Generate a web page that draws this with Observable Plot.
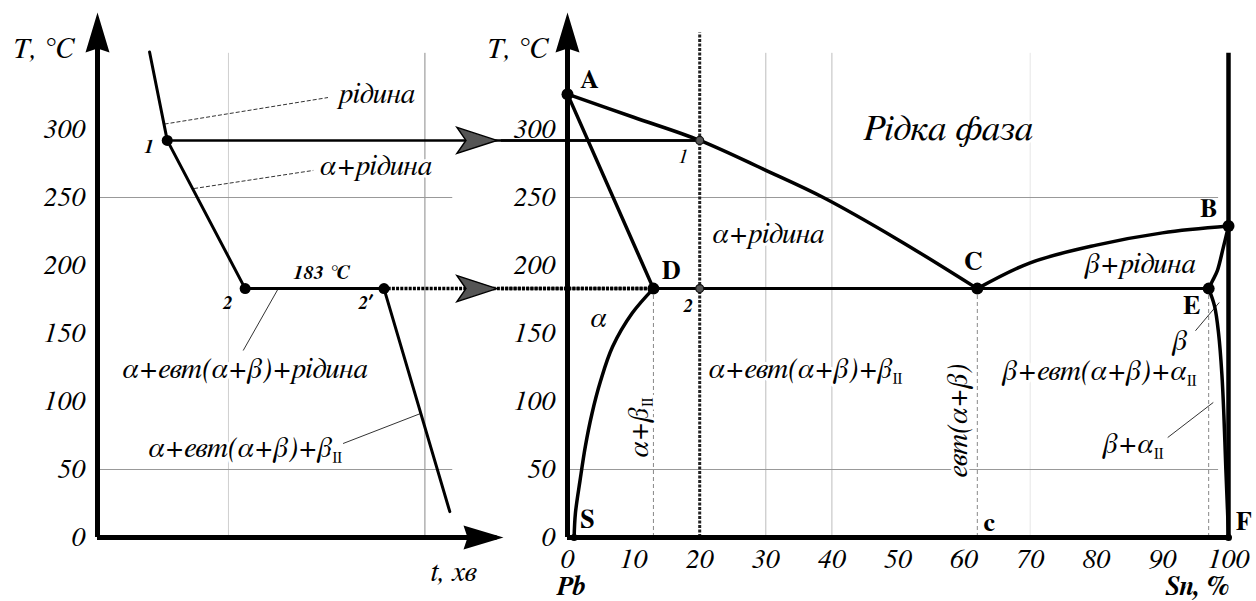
<!DOCTYPE html>
<html>
<head>
<meta charset="utf-8">
<script src="https://cdn.jsdelivr.net/npm/d3@7"></script>
<script src="https://cdn.jsdelivr.net/npm/@observablehq/plot@0.6"></script>
<style>
  body { margin: 0; background: #fff; }
  #chart { position: relative; width: 1256px; height: 601px; }
  #chart svg { position: absolute; left: 0; top: 0; }
</style>
</head>
<body>
<div id="chart"></div>
<script>
// ---------- values ----------
const tempTicks = [0, 50, 100, 150, 200, 250, 300];
const snTicks = [0, 10, 20, 30, 40, 50, 60, 70, 80, 90, 100];

// cooling curve of the Pb – 20 % Sn alloy (time, min / temperature, °C)
const coolTime = [1.59, 2.13, 4.51, 8.75, 10.76];
const coolTemp = [357, 292, 183, 183, 19];
const coolPointNames = ["", "1", "2", "2′", ""];

const alloySn = 20;        // composition of the cooled alloy
const tPoint1 = 292;       // start of crystallisation (point 1)
const tEutectic = 183;     // eutectic temperature

// phase boundaries of the Pb–Sn system (Sn, % / temperature, °C)
const liquidusACsn = [0, 10, 20, 30, 38.7, 50, 62];
const liquidusACt  = [326, 309, 292, 270, 250, 219, 183];
const liquidusCBsn = [62, 70, 80, 90, 100];
const liquidusCBt  = [183, 202, 215, 224, 229];
const solidusADsn  = [0, 13];
const solidusADt   = [326, 183];
const solidusBEsn  = [100, 99.2, 98.3, 97.6, 97];
const solidusBEt   = [229, 213, 196, 189, 183];
const solvusDSsn   = [13, 9.8, 6.8, 5, 3.7, 2.7, 1.9, 1.2, 1];
const solvusDSt    = [183, 165, 140, 115, 91, 67, 42, 18, 0];
const solvusEFsn   = [97, 97.9, 98.5, 99, 99.3, 99.6, 99.85, 100];
const solvusEFt    = [183, 170, 150, 120, 90, 50, 20, 0];

// characteristic points
const pointNames = ["A", "D", "C", "B", "E", "S", "F"];
const pointSn    = [0, 13, 62, 100, 97, 1, 100];
const pointT     = [326, 183, 183, 229, 183, 0, 0];

// ---------- helpers ----------
const serif = "FreeSerif, 'Liberation Serif', serif";
const zip = (xs, ys) => xs.map((x, i) => ({x, y: ys[i]}));
const pt = name => ({sn: pointSn[pointNames.indexOf(name)], t: pointT[pointNames.indexOf(name)]});

// filled arrow head pointing along +x, tip at the anchor
function arrowSymbol(len, half, notch) {
  return {
    draw(ctx, size) {
      const k = Math.sqrt(size / Math.PI) / 10;
      ctx.moveTo(0, 0);
      ctx.lineTo(-len * k, -half * k);
      ctx.lineTo(-(len - notch) * k, 0);
      ctx.lineTo(-len * k, half * k);
      ctx.closePath();
    }
  };
}
const axisHead = arrowSymbol(40, 12, 4);
const flowHead = arrowSymbol(40, 13, 9);

// "β_II" -> β with a subscript II
function applySubscripts(svg) {
  const ns = "http://www.w3.org/2000/svg";
  for (const el of svg.querySelectorAll("text")) {
    const s = el.textContent;
    if (!s.includes("_")) continue;
    const [main, sub] = s.split("_");
    el.textContent = "";
    const a = document.createElementNS(ns, "tspan");
    a.textContent = main;
    const b = document.createElementNS(ns, "tspan");
    b.textContent = sub;
    b.setAttribute("font-size", "0.5em");
    b.setAttribute("font-style", "normal");
    b.setAttribute("dy", "5");
    el.append(a, b);
  }
  return svg;
}

// scales shared by both diagrams
const timeScale = {domain: [0, 12.4], range: [97, 503], axis: null};
const snScale = {domain: [0, 100], range: [567, 1228], axis: null};
const tempScale = {domain: [0, 300], range: [537, 129], axis: null};
const snToTime = (() => {
  const a = Plot.scale({x: snScale}), b = Plot.scale({x: timeScale});
  return sn => b.invert(a.apply(sn));
})();

const gridTop = 356;   // upper end of the grid
const axisTop = 386;   // tip of the temperature axes
const common = {width: 1256, height: 601, style: {background: "transparent", overflow: "visible"}};
const txt = {fontFamily: serif, fill: "black"};

// ---------- cooling curve ----------
const coolNotes = [
  {label: "рідина", x: 8.54, y: 326.5},
  {label: "α+рідина", x: 8.51, y: 273.5},
  {label: "α+евт(α+β)+рідина", x: 4.51, y: 124.3},
  {label: "α+евт(α+β)+β_II", x: 4.51, y: 66.2}
];
const coolDashedLeaders = [
  {x1: 2.05, y1: 304, x2: 7.04, y2: 323.5},
  {x1: 2.95, y1: 256.6, x2: 6.59, y2: 269.9}
];
const coolLeaders = [
  {x1: 5.52, y1: 183, x2: 4.45, y2: 137.5},
  {x1: 9.85, y1: 91, x2: 7.5, y2: 69.1}
];
const cooling = zip(coolTime, coolTemp);
const coolDots = cooling.filter((d, i) => coolPointNames[i]);
const coolLabels = [
  {label: "1", x: 1.58, y: 287.5},
  {label: "2", x: 3.96, y: 172.8},
  {label: "2′", x: 8.17, y: 172.8}
];

const left = Plot.plot({
  ...common,
  x: timeScale,
  y: tempScale,
  marks: [
    // grid
    Plot.ruleX([4], {y1: 0, y2: gridTop, stroke: "#cfcfcf", strokeWidth: 1}),
    Plot.ruleX([10], {y1: 0, y2: gridTop, stroke: "#8a8a8a", strokeWidth: 1}),
    Plot.ruleY([250, 50], {x1: 0, x2: 10.85, stroke: "#999", strokeWidth: 1}),
    // phase notes
    Plot.text(coolNotes, {...txt, x: "x", y: "y", text: "label", fontStyle: "italic",
      fontSize: 29, stroke: "white", strokeWidth: 6}),
    Plot.link(coolDashedLeaders, {x1: "x1", y1: "y1", x2: "x2", y2: "y2", stroke: "#333",
      strokeWidth: 1, strokeDasharray: "4,2"}),
    Plot.link(coolLeaders, {x1: "x1", y1: "y1", x2: "x2", y2: "y2", stroke: "#333", strokeWidth: 1}),
    // axes
    Plot.ruleX([0], {y1: 0, y2: axisTop - 25, stroke: "black", strokeWidth: 5}),
    Plot.ruleY([0], {x1: 0, x2: 12.2, stroke: "black", strokeWidth: 5}),
    Plot.dot([{x: 0, y: axisTop}], {x: "x", y: "y", symbol: axisHead, r: 10, rotate: -90, fill: "black", stroke: "none"}),
    Plot.dot([{x: 12.4, y: 0}], {x: "x", y: "y", symbol: axisHead, r: 10, fill: "black", stroke: "none"}),
    Plot.text(tempTicks, {...txt, x: 0, y: d => d, text: d => String(d), dx: -12, textAnchor: "end",
      fontStyle: "italic", fontSize: 28}),
    Plot.text(["T, °C"], {...txt, x: 0, y: 359.6, dx: -24, textAnchor: "end", text: d => d, fontStyle: "italic", fontSize: 29}),
    Plot.text(["t, хв"], {...txt, x: 10.88, y: -25, text: d => d, fontStyle: "italic", fontSize: 29}),
    // transfer of the critical points onto the phase diagram
    Plot.ruleY([tPoint1], {x1: coolTime[1], x2: snToTime(alloySn), stroke: "black", strokeWidth: 2.5}),
    Plot.ruleY([tEutectic], {x1: coolTime[3], x2: snToTime(pt("D").sn), stroke: "black", strokeWidth: 3.5, strokeDasharray: "3,1.2"}),
    Plot.dot([tPoint1, tEutectic], {x: 12.2, y: d => d, symbol: flowHead, r: 10, fill: "#555", stroke: "black", strokeWidth: 1.5}),
    // cooling curve
    Plot.line(cooling, {x: "x", y: "y", stroke: "black", strokeWidth: 3}),
    Plot.dot(coolDots, {x: "x", y: "y", r: 5.5, fill: "black", stroke: "none"}),
    Plot.text(coolLabels, {...txt, x: "x", y: "y", text: "label", fontStyle: "italic",
      fontWeight: "bold", fontSize: 19}),
    Plot.text(["183 °C"], {...txt, x: 6.83, y: 194.9, text: d => d, fontStyle: "italic",
      fontWeight: "bold", fontSize: 20})
  ]
});

// ---------- phase diagram ----------
const regionNotes = [
  {label: "Рідка фаза", x: 57.6, y: 301, size: 37},
  {label: "α+рідина", x: 30.4, y: 223.5, size: 29},
  {label: "β+рідина", x: 86.7, y: 201.5, size: 29},
  {label: "α", x: 4.7, y: 161.8, size: 29},
  {label: "α+евт(α+β)+β_II", x: 36, y: 124, size: 29},
  {label: "β+евт(α+β)+α_II", x: 80.5, y: 122.8, size: 29},
  {label: "β", x: 92.7, y: 144.9, size: 29},
  {label: "β+α_II", x: 85.6, y: 69, size: 29}
];
const verticalNotes = [
  {label: "α+β_II", x: 10.7, y: 80.9},
  {label: "евт(α+β)", x: 59, y: 86}
];
const phaseLeaders = [
  {x1: 95, y1: 152, x2: 98.6, y2: 172.8},
  {x1: 90.8, y1: 73.5, x2: 97.7, y2: 99.3}
];
const pointLabelPos = {
  A: [3.3, 336.8], D: [15.7, 196.3], C: [61.4, 203], B: [97, 241.9],
  E: [94.4, 170.6], S: [3, 13.2], F: [102.3, 11.8]
};
const pointLabels = pointNames.map(n => ({label: n, x: pointLabelPos[n][0], y: pointLabelPos[n][1]}));
pointLabels.push({label: "c", x: 63.8, y: 11});
const bigDots = pointNames.filter(n => n !== "S" && n !== "F").map(pt);
const smallDots = ["S", "F"].map(pt);
const curveOpts = {x: "x", y: "y", stroke: "black", strokeWidth: 3.5, curve: "catmull-rom"};

const right = Plot.plot({
  ...common,
  x: snScale,
  y: tempScale,
  marks: [
    // grid
    Plot.ruleX([30, 40], {y1: 0, y2: gridTop, stroke: "#bdbdbd", strokeWidth: 1}),
    Plot.ruleX([70], {y1: 0, y2: gridTop, stroke: "#e6e6e6", strokeWidth: 1}),
    Plot.ruleY([250, 50], {x1: 0, x2: 98.5, stroke: "#999", strokeWidth: 1}),
    // structure boundaries at room temperature
    Plot.ruleX([pt("D").sn, pt("C").sn, pt("E").sn], {y1: 0, y2: tEutectic, stroke: "#888", strokeWidth: 1, strokeDasharray: "4,3"}),
    // region names
    Plot.text(regionNotes, {...txt, x: "x", y: "y", text: "label", fontStyle: "italic",
      fontSize: d => d.size, stroke: "white", strokeWidth: 6}),
    Plot.text(verticalNotes, {...txt, x: "x", y: "y", text: "label", rotate: -90, fontStyle: "italic",
      fontSize: 29, stroke: "white", strokeWidth: 6}),
    Plot.link(phaseLeaders, {x1: "x1", y1: "y1", x2: "x2", y2: "y2", stroke: "#333", strokeWidth: 1}),
    // the alloy under study
    Plot.ruleX([alloySn], {y1: 0, y2: 371, stroke: "#222", strokeWidth: 3, strokeDasharray: "3,1.5"}),
    Plot.ruleY([tPoint1], {x2: alloySn, x1: -10, stroke: "black", strokeWidth: 2.5}),
    Plot.ruleY([tEutectic], {x1: -10, x2: pt("D").sn, stroke: "black", strokeWidth: 3.5, strokeDasharray: "3,1.2"}),
    // axes
    Plot.ruleX([0], {y1: 0, y2: axisTop - 25, stroke: "black", strokeWidth: 5}),
    Plot.dot([{x: 0, y: axisTop}], {x: "x", y: "y", symbol: axisHead, r: 10, rotate: -90, fill: "black", stroke: "none"}),
    Plot.ruleX([100], {y1: 0, y2: gridTop, stroke: "black", strokeWidth: 4.5}),
    Plot.ruleY([0], {x1: 0, x2: 100, stroke: "black", strokeWidth: 5}),
    Plot.text(tempTicks, {...txt, x: 0, y: d => d, text: d => String(d), dx: -12, textAnchor: "end",
      fontStyle: "italic", fontSize: 28}),
    Plot.text(snTicks, {...txt, x: d => d, y: 0, text: d => String(d), dy: 22,
      fontStyle: "italic", fontSize: 28}),
    Plot.text(["T, °C"], {...txt, x: 0, y: 359.6, dx: -20, textAnchor: "end", text: d => d, fontStyle: "italic", fontSize: 29}),
    Plot.text(["Pb"], {...txt, x: 0.45, y: -36, text: d => d, fontStyle: "italic", fontWeight: "bold", fontSize: 27}),
    Plot.text(["Sn, %"], {...txt, x: 95.3, y: -36, text: d => d, fontStyle: "italic", fontWeight: "bold", fontSize: 27}),
    // phase boundaries
    Plot.line(zip(liquidusACsn, liquidusACt), curveOpts),
    Plot.line(zip(liquidusCBsn, liquidusCBt), curveOpts),
    Plot.line(zip(solidusADsn, solidusADt), curveOpts),
    Plot.line(zip(solidusBEsn, solidusBEt), curveOpts),
    Plot.line(zip(solvusDSsn, solvusDSt), curveOpts),
    Plot.line(zip(solvusEFsn, solvusEFt), curveOpts),
    Plot.ruleY([tEutectic], {x1: pt("D").sn, x2: pt("E").sn, stroke: "black", strokeWidth: 3}),
    // points
    Plot.dot(bigDots, {x: "sn", y: "t", r: 6, fill: "black", stroke: "none"}),
    Plot.dot(smallDots, {x: "sn", y: "t", r: 3.5, fill: "black", stroke: "none"}),
    Plot.dot([tPoint1, tEutectic], {x: alloySn, y: d => d, r: 4, fill: "#555", stroke: "#111", strokeWidth: 1.2}),
    Plot.text(pointLabels, {...txt, x: "x", y: "y", text: "label", fontWeight: "bold", fontSize: 26}),
    Plot.text(["1"], {...txt, x: 17.5, y: 280, text: d => d, fontStyle: "italic", fontSize: 21}),
    Plot.text(["2"], {...txt, x: 18.2, y: 170.6, text: d => d, fontStyle: "italic", fontWeight: "bold", fontSize: 19})
  ]
});

const chart = document.getElementById("chart");
chart.append(applySubscripts(left), applySubscripts(right));
</script>
</body>
</html>
